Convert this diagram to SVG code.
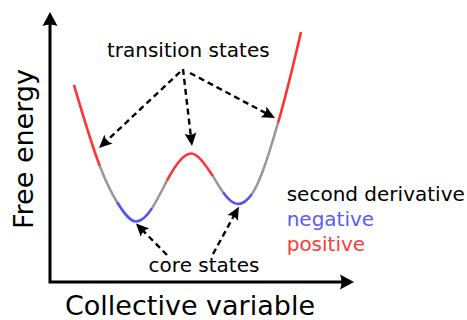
<svg xmlns="http://www.w3.org/2000/svg" width="467" height="320" viewBox="0 0 467 320">
  <style>
    text { font-family: "DejaVu Sans", "Liberation Sans", sans-serif; fill: #000; }
    .lbl { font-size: 20px; }
    .axl { font-size: 27px; }
    .seg { fill: none; stroke-width: 2.6; stroke-linecap: butt; }
    .red { stroke: #ff3333; }
    .blu { stroke: #5555ee; }
    .gry { stroke: #999999; }
    .dash { fill: none; stroke: #000; stroke-width: 2.4; stroke-dasharray: 6 4; marker-end: url(#ah); }
    .axis { fill: none; stroke: #000; stroke-width: 3; }
  </style>
  <defs>
    <marker id="ah" markerUnits="userSpaceOnUse" markerWidth="30" markerHeight="30" refX="0" refY="0" orient="auto" overflow="visible" viewBox="-15 -15 30 30">
      <path d="M6,0 L-7,-6 Q-3,0 -7,6 Z" fill="#000"/>
    </marker>
    <marker id="axh" markerUnits="userSpaceOnUse" markerWidth="30" markerHeight="30" refX="0" refY="0" orient="auto-start-reverse" overflow="visible" viewBox="-15 -15 30 30">
      <path d="M7,0 L-7,-7.5 Q-4,0 -7,7.5 Z" fill="#000"/>
    </marker>
  </defs>

  <g id="axes">
    <path class="axis" d="M50,19 V282 H347" marker-start="url(#axh)" marker-end="url(#axh)"/>
  </g>

  <g id="curve">
    <path class="seg red" d="M74,85 C82.67,114.5 91.33,143.97 100,166.5"/>
    <path class="seg gry" d="M100,166.5 C105.67,181.23 111.33,192.93 117,202"/>
    <path class="seg blu" d="M117,202 C123.33,212.13 129.67,221.5 136,221.5 C141.33,221.5 146.67,216.41 152,208.2"/>
    <path class="seg gry" d="M152,208.2 C157,200.5 162,190.2 167,180.7"/>
    <path class="seg red" d="M167,180.7 C175,165.5 183,153.5 191,153.5 C198,153.5 205,164.44 213,176.2"/>
    <path class="seg gry" d="M213,176.2 C216.33,181.8 219.67,187.57 223,192.3"/>
    <path class="seg blu" d="M223,192.3 C228,199.4 233,204 238,204 C242.67,204 247.33,200.67 252,194"/>
    <path class="seg gry" d="M252,194 C260.67,181.6 269.33,152.47 278,123"/>
    <path class="seg red" d="M278,123 C285.67,96.93 293.33,64.97 301,32"/>
  </g>

  <g id="connectors">
    <path class="dash" d="M180,72 L103.4,143.9"/>
    <path class="dash" d="M183,69 L191.3,140"/>
    <path class="dash" d="M190,73 L269.7,115.2"/>
    <path class="dash" d="M167,255 L140.2,227.8"/>
    <path class="dash" d="M213,254 L236,212"/>
  </g>

  <g id="transition-states">
    <text class="lbl" x="188.3" y="57.3" text-anchor="middle">transition states</text>
  </g>
  <g id="core-states">
    <text class="lbl" x="204" y="271.5" text-anchor="middle">core states</text>
  </g>
  <g id="legend">
    <text class="lbl" x="286.7" y="200.5">second derivative</text>
    <text class="lbl" x="286.7" y="225.5" style="fill:#5a5aff">negative</text>
    <text class="lbl" x="286.7" y="250.5" style="fill:#ff3a3a">positive</text>
  </g>
  <g id="x-label">
    <text class="axl" x="190" y="315" text-anchor="middle">Collective variable</text>
  </g>
  <g id="y-label">
    <text class="axl" transform="translate(33,149) rotate(-90)" text-anchor="middle">Free energy</text>
  </g>
</svg>
